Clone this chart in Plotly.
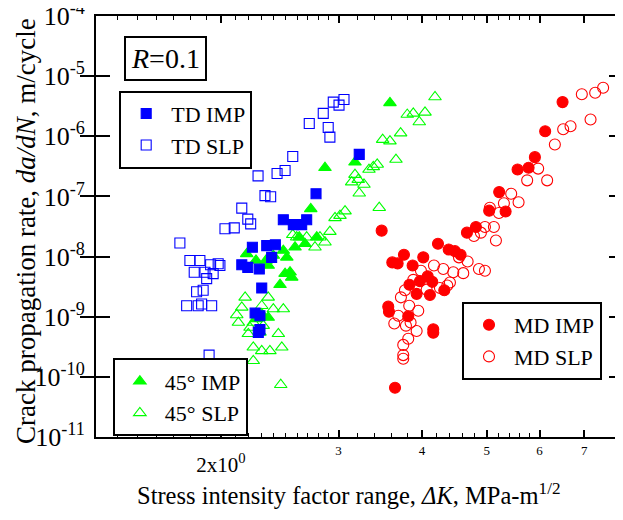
import math
import plotly.graph_objects as go

# ---- data (ΔK in MPa·m^1/2, da/dN in m/cycle) ----
td_imp_dk = [3.222, 2.776, 2.480, 2.567, 2.642, 2.688, 2.413, 2.342, 2.229, 2.382, 2.149, 2.194,
             2.283, 2.302, 2.25, 2.288, 2.275, 2.288]
td_imp_rate = [5.0e-7, 1.11e-7, 4.1e-8, 3.4e-8, 3.4e-8, 4.1e-8, 1.57e-8, 1.52e-8, 1.43e-8, 9.7e-9,
               7.3e-9, 6.6e-9, 6.2e-9, 3.0e-9, 1.15e-9, 1.04e-9, 5.5e-10, 6.1e-10]

td_slp_dk = [3.057, 2.946, 3.005, 2.846, 2.712, 2.895, 2.912, 2.562, 2.495, 2.427, 2.273, 2.328,
             2.374, 2.149, 2.194, 2.216, 2.094, 2.028, 1.736, 1.797, 1.860, 1.824, 1.893, 1.930,
             1.981, 1.993, 1.904, 1.947, 1.839, 1.881, 1.777, 1.849, 1.871, 1.937, 1.920]
td_slp_rate = [4.1e-6, 3.7e-6, 3.3e-6, 2.4e-6, 1.63e-6, 1.4e-6, 9.7e-7, 4.6e-7, 2.7e-7, 2.4e-7,
               2.2e-7, 1.03e-7, 9.9e-8, 6.4e-8, 4.2e-8, 3.5e-8, 3.0e-8, 2.9e-8, 1.68e-8, 8.6e-9,
               8.6e-9, 5.5e-9, 5.5e-9, 7.3e-9, 7.6e-9, 7.1e-9, 4.3e-9, 5.2e-9, 2.6e-9, 2.75e-9,
               1.52e-9, 1.52e-9, 1.63e-9, 1.52e-9, 2.3e-10]

d45_imp_dk = [3.582, 3.175, 2.863, 2.726, 2.620, 2.673, 2.783, 2.582, 2.186, 2.257, 2.336, 2.396,
              2.480, 2.510, 2.354, 2.495, 2.538, 2.553, 2.452, 2.354, 2.302, 2.257]
d45_imp_rate = [3.6e-6, 3.7e-7, 3.0e-7, 6.2e-8, 2.1e-8, 1.63e-8, 2.1e-8, 1.43e-8, 1.11e-8, 8.6e-9,
                8.6e-9, 1.04e-8, 1.26e-8, 9.7e-9, 7.1e-9, 5.2e-9, 5.5e-9, 4.5e-9, 3.4e-9, 9.7e-10,
                1.11e-9, 9.2e-10]

d45_slp_dk = [4.184, 3.802, 3.882, 4.042, 3.963, 3.716, 3.493, 3.582, 3.657, 3.428, 3.382, 3.332,
              3.175, 3.139, 3.211, 3.275, 3.222, 3.452, 3.068, 3.015, 2.964, 2.912, 2.863, 2.814,
              2.766, 2.688, 2.562, 2.597, 2.174, 2.354, 2.149, 2.302, 2.396, 2.480, 2.112, 2.124,
              2.236, 2.314, 2.198, 2.288, 2.438, 2.236, 2.302, 2.368, 2.467, 2.236, 2.458, 2.211]
d45_slp_rate = [4.5e-6, 2.3e-6, 2.4e-6, 2.5e-6, 1.73e-6, 1.13e-6, 8.8e-7, 8.3e-7, 4.1e-7, 3.4e-7,
                3.1e-7, 2.8e-7, 2.3e-7, 1.73e-7, 1.9e-7, 1.58e-7, 1.13e-7, 6.5e-8, 5.7e-8, 4.8e-8,
                4.4e-8, 2.6e-8, 1.73e-8, 2.1e-8, 1.43e-8, 2.1e-8, 2.3e-8, 2.1e-8, 2.1e-9, 2.1e-9,
                1.43e-9, 1.52e-9, 1.34e-9, 1.34e-9, 1.07e-9, 8.0e-10, 8.0e-10, 7.1e-10, 5.2e-10,
                5.5e-10, 5.2e-10, 3.1e-10, 2.7e-10, 2.7e-10, 3.1e-10, 1.85e-10, 7.4e-11, 6.6e-10]

md_imp_dk = [6.495, 6.117, 5.904, 5.562, 5.777, 5.220, 5.043, 5.337, 4.818, 4.671, 3.481, 4.227,
             4.386, 4.482, 4.570, 3.759, 4.018, 3.611, 3.678, 3.873, 4.080, 3.972, 3.831, 4.144,
             3.927, 4.111, 4.320, 3.561, 3.570, 3.815, 4.159, 4.159, 3.645]
md_imp_rate = [3.7e-6, 1.21e-6, 4.5e-7, 2.8e-7, 3.0e-7, 1.18e-7, 5.8e-8, 5.6e-8, 3.1e-8, 2.5e-8,
               2.7e-8, 1.63e-8, 1.31e-8, 1.23e-8, 1.07e-8, 1.07e-8, 9.7e-9, 8.0e-9, 7.7e-9, 7.1e-9,
               4.7e-9, 3.9e-9, 3.4e-9, 3.8e-9, 2.4e-9, 2.3e-9, 2.75e-9, 1.47e-9, 1.21e-9, 1.02e-9,
               6.2e-10, 5.4e-10, 6.6e-11]

md_slp_dk = [7.470, 7.268, 6.941, 7.153, 6.676, 6.509, 6.325, 5.971, 5.749, 6.159, 5.441, 5.581,
             5.306, 5.055, 5.215, 5.126, 4.970, 4.901, 4.785, 5.162, 4.544, 4.682, 4.868, 4.970,
             4.612, 4.456, 4.305, 4.169, 3.986, 3.882, 4.405, 4.365, 4.256, 4.065, 3.772, 3.720,
             3.828, 3.949, 3.686, 3.636, 3.846, 3.785, 3.927, 3.815, 3.750, 3.750, 3.750]
md_slp_rate = [6.4e-6, 5.3e-6, 5.0e-6, 1.9e-6, 1.47e-6, 1.31e-6, 7.3e-7, 2.9e-7, 1.85e-7, 1.85e-7,
               1.11e-7, 8.0e-8, 7.7e-8, 6.5e-8, 5.3e-8, 3.1e-8, 3.1e-8, 2.5e-8, 2.2e-8, 1.85e-8,
               9.7e-9, 8.3e-9, 6.2e-9, 5.8e-9, 5.3e-9, 5.5e-9, 6.2e-9, 7.1e-9, 5.8e-9, 4.1e-9,
               3.7e-9, 3.3e-9, 3.0e-9, 2.8e-9, 2.75e-9, 2.1e-9, 1.52e-9, 1.26e-9, 1.04e-9, 7.7e-10,
               8.0e-10, 7.1e-10, 5.8e-10, 4.3e-10, 3.4e-10, 2.3e-10, 2.0e-10]

x_major_vals = [3, 4, 5, 6, 7, 8]
x_major_text = ["3", "4", "5", "6", "7", "8"]
x_first_val = [2]
x_first_text = ["2x10<sup>0</sup>"]
y_exponents = [-11, -10, -9, -8, -7, -6, -5, -4]

FONT = "Liberation Serif, Times New Roman, serif"
BLUE = "#0000ff"
GREEN = "#00ff00"
RED = "#ff0000"

fig = go.Figure()

def add(x, y, name, symbol, color, size, legend, rank):
    fig.add_trace(go.Scatter(
        x=x, y=y, mode="markers", name=name, legend=legend, legendrank=rank,
        marker=dict(symbol=symbol, color=color, size=size,
                    line=dict(color=color, width=1.1)),
    ))

# open markers first, filled on top
add(td_slp_dk, td_slp_rate, "TD SLP", "square-open", BLUE, 10, "legend", 2)
add(d45_slp_dk, d45_slp_rate, "45° SLP", "triangle-up-open", GREEN, 11, "legend2", 2)
add(md_slp_dk, md_slp_rate, "MD SLP", "circle-open", RED, 11, "legend3", 2)
add(md_imp_dk, md_imp_rate, "MD IMP", "circle", RED, 11, "legend3", 1)
add(d45_imp_dk, d45_imp_rate, "45° IMP", "triangle-up", GREEN, 11, "legend2", 1)
add(td_imp_dk, td_imp_rate, "TD IMP", "square", BLUE, 10, "legend", 1)

# empty trace so the overlay axis carrying the "2x10^0" label is drawn
fig.add_trace(go.Scatter(x=[], y=[], xaxis="x2", yaxis="y", showlegend=False,
                         hoverinfo="skip"))

minor_x = ([round(1.4 + 0.1 * i, 1) for i in range(6)] +
           [round(2.1 + 0.1 * i, 1) for i in range(9)] +
           [round(3.2 + 0.2 * i, 1) for i in range(4)] +
           [round(4.2 + 0.2 * i, 1) for i in range(4)] +
           [round(5.2 + 0.2 * i, 1) for i in range(4)])

xr = [math.log10(1.3), math.log10(8.0)]

legend_common = dict(
    bgcolor="white", bordercolor="black", borderwidth=2,
    font=dict(family=FONT, size=22, color="black"),
    xanchor="left", yanchor="middle", tracegroupgap=0, itemsizing="trace",
    itemwidth=40,
)

# the page body adds an 8 px offset, so the figure is 8 px smaller than the window
fig.update_layout(
    width=615, height=512,
    margin=dict(l=88, r=0, t=8, b=83),
    paper_bgcolor="white", plot_bgcolor="white",
    font=dict(family=FONT, color="black"),
    showlegend=True,
    legend=dict(x=0.044, y=0.730, **legend_common),
    legend2=dict(x=0.032, y=0.094, **legend_common),
    legend3=dict(x=0.6945, y=0.228, **legend_common),
    xaxis=dict(
        type="log", range=xr, showline=True, linecolor="black", linewidth=2,
        mirror="allticks", ticks="inside", ticklen=7, tickwidth=1.5, tickcolor="black",
        tickvals=x_major_vals, ticktext=x_major_text, ticklabeloverflow="allow",
        tickfont=dict(family=FONT, size=13, color="black"),
        minor=dict(tickvals=minor_x, ticks="inside", ticklen=4, tickwidth=1, tickcolor="black"),
        showgrid=False, zeroline=False, automargin=False,
    ),
    xaxis2=dict(
        type="log", range=xr, overlaying="x", anchor="y", side="bottom",
        showline=True, linecolor="black", linewidth=2, mirror="allticks",
        ticks="inside", ticklen=7, tickwidth=1.5, tickcolor="black",
        tickvals=x_first_val, ticktext=x_first_text, ticklabeloverflow="allow",
        ticklabelstandoff=8,
        tickfont=dict(family=FONT, size=21, color="black"),
        showgrid=False, zeroline=False, automargin=False,
    ),
    yaxis=dict(
        type="log", range=[-11, -4], showline=True, linecolor="black", linewidth=2,
        mirror="allticks", ticks="inside", ticklen=14, tickwidth=2, tickcolor="black",
        tickvals=[10.0 ** e for e in y_exponents],
        ticktext=["10<sup>%d</sup>" % e for e in y_exponents],
        ticklabeloverflow="allow", ticklabelstandoff=4,
        tickfont=dict(family=FONT, size=26, color="black"),
        showgrid=False, zeroline=False, automargin=False,
    ),
    annotations=[
        dict(text="<i>R</i>=0.1", xref="paper", yref="paper", x=0.053, y=0.952,
             xanchor="left", yanchor="top", showarrow=False,
             font=dict(family=FONT, size=28, color="black"),
             bordercolor="black", borderwidth=2, borderpad=5, bgcolor="white"),
        dict(text="Stress intensity factor range, <i>ΔK</i>, MPa-m<sup>1/2</sup>",
             xref="paper", yref="paper", x=0.48, y=-0.135,
             xanchor="center", yanchor="middle", showarrow=False,
             font=dict(family=FONT, size=24.5, color="black")),
        dict(text="Crack propagation rate, <i>da/dN</i>, m/cycle",
             xref="paper", yref="paper", x=-0.133, y=0.489, textangle=-90,
             xanchor="center", yanchor="middle", showarrow=False,
             font=dict(family=FONT, size=27, color="black")),
    ],
)

fig.write_html("out.html")
